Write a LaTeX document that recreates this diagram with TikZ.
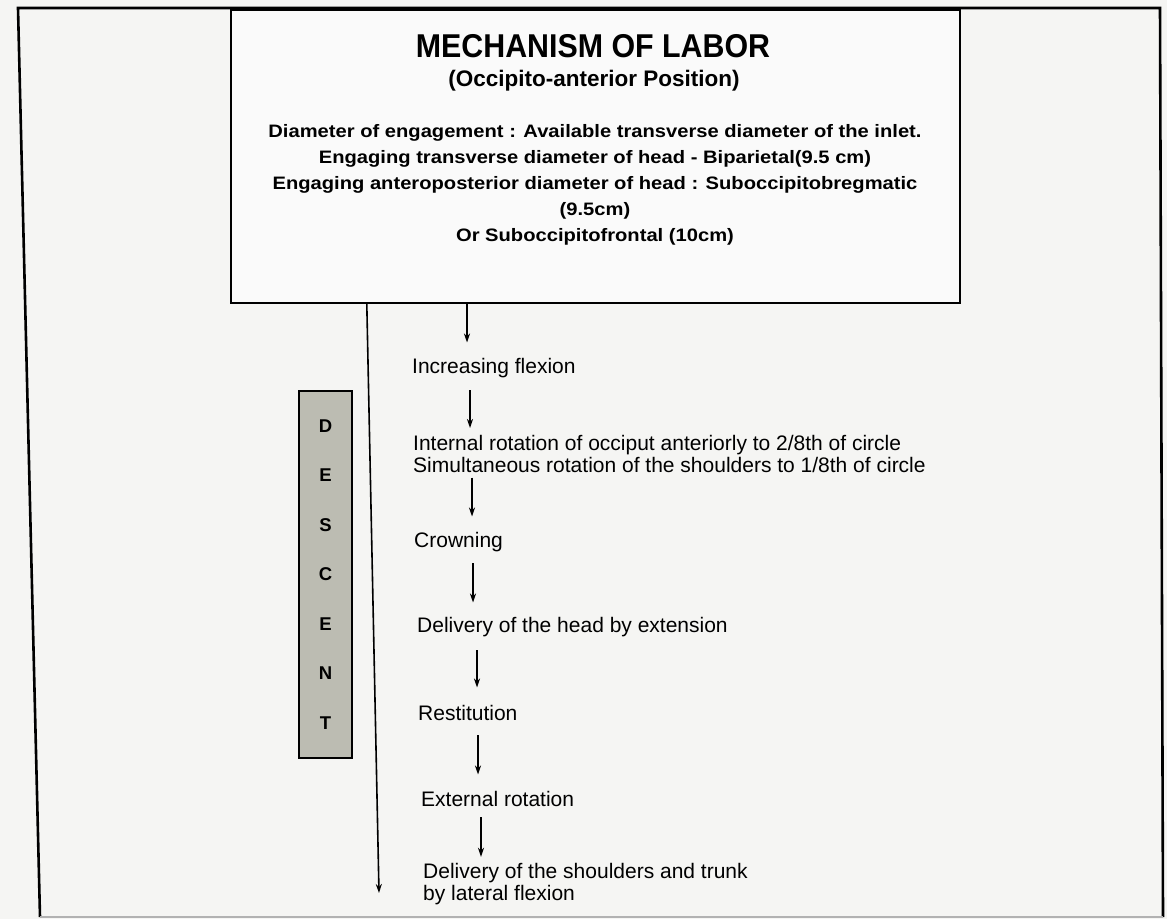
\documentclass[tikz,border=0pt]{standalone}
\usepackage{fontspec}
\setmainfont{Liberation Sans}
\newfontfamily\titlefont{Liberation Sans}[FakeStretch=0.92]
\newfontfamily\bodyfont{Liberation Sans}[FakeStretch=1.12]
\usetikzlibrary{arrows.meta,calc}
\definecolor{pagebg}{RGB}{245,245,243}
\definecolor{descgrey}{RGB}{188,188,178}
\begin{document}
\begin{tikzpicture}[x=1pt,y=-1pt,
  frameline/.style={line width=2.6pt, line join=miter},
  headbox/.style={draw, line width=2.4pt, fill=white!98!black, minimum width=729pt, minimum height=293pt, inner sep=0pt},
  steptext/.style={font=\fontsize{21}{22}\selectfont, inner sep=0pt, align=left},
  stepone/.style={steptext, text height=15.3pt, text depth=4.5pt},
  arr/.style={line width=1.6pt, -{Stealth[length=9pt,width=6pt]}},
  descbox/.style={draw, line width=2pt, fill=descgrey, minimum width=53pt, minimum height=367pt, inner sep=0pt, align=center, font=\bfseries\fontsize{18.5}{49.5}\selectfont}
]
\useasboundingbox (0,0) rectangle (1167,919);
\fill[pagebg] (0,0) rectangle (1167,919);
% outer frame
\draw[frameline] (40,917) -- (18,8) -- (1160,8) -- (1163,917);
\draw[line width=2pt, gray!60] (40,917) -- (1163,917);
% heading box
\node[headbox] (head) at (595.5,156.5) {};
\node[inner sep=0pt, anchor=base, font=\titlefont\bfseries\fontsize{33}{33}\selectfont] (title) at (593,57) {MECHANISM OF LABOR};
\node[inner sep=0pt, anchor=base, font=\bfseries\fontsize{22.5}{22.5}\selectfont] (subtitle) at (594,86) {(Occipito-anterior Position)};
\node[inner sep=0pt, anchor=north, align=center, font=\bodyfont\bfseries\fontsize{18}{26}\selectfont] (body) at (595,124) {Diameter of engagement : Available transverse diameter of the inlet.\\
Engaging transverse diameter of head - Biparietal(9.5 cm)\\
Engaging anteroposterior diameter of head : Suboccipitobregmatic\\
(9.5cm)\\
Or Suboccipitofrontal (10cm)};
% steps
\node[stepone, anchor=base west] (s1) at (412,373) {Increasing flexion};
\node[steptext, anchor=north west] (s2) at (413,434.7) {Internal rotation of occiput anteriorly to 2/8th of circle\\Simultaneous rotation of the shoulders to 1/8th of circle};
\node[stepone, anchor=base west] (s3) at (414,547) {Crowning};
\node[stepone, anchor=base west] (s4) at (417,632) {Delivery of the head by extension};
\node[stepone, anchor=base west] (s5) at (418,720) {Restitution};
\node[stepone, anchor=base west] (s6) at (421,806) {External rotation};
\node[steptext, anchor=north west] (s7) at (423,862.8) {Delivery of the shoulders and trunk\\by lateral flexion};
% descent bar
\node[descbox] (descent) at (325.5,574.5) {D\\E\\S\\C\\E\\N\\T};
% arrows
\coordinate (longend) at (379,893);
\draw[arr] ($(head.south west)+(137,0)$) -- (longend);
\draw[arr] ($(head.south west)+(237.2,0)$) -- ($(s1.north west)+(55,-15)$);
\draw[arr] ($(s1.south west)+(58,12.5)$) -- ($(s2.north west)+(57,-6.7)$);
\draw[arr] ($(s2.north west)+(59,43)$) -- ($(s3.north west)+(58,-15)$);
\draw[arr] ($(s3.south west)+(59,11.5)$) -- ($(s4.north west)+(56,-14)$);
\draw[arr] ($(s4.south west)+(60,13.5)$) -- ($(s5.north west)+(59,-17)$);
\draw[arr] ($(s5.south west)+(60,10.5)$) -- ($(s6.north west)+(57,-16)$);
\draw[arr] ($(s6.south west)+(60,6.5)$) -- ($(s7.north west)+(58,-6)$);
\end{tikzpicture}
\end{document}
